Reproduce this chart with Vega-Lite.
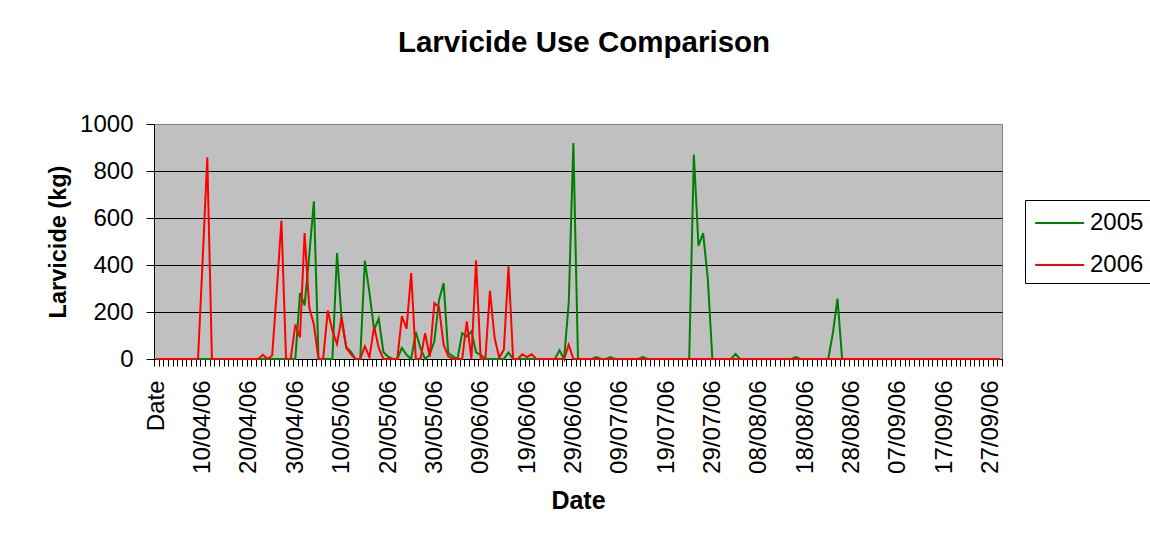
{
  "$schema": "https://vega.github.io/schema/vega-lite/v6.json",
  "width": 848,
  "height": 235,
  "autosize": {"type": "none"},
  "padding": {"left": 154, "top": 124, "right": 148, "bottom": 189},
  "background": "white",
  "title": {"text": "Larvicide Use Comparison", "fontSize": 29.5, "fontWeight": "bold", "font": "Liberation Sans", "color": "black", "anchor": "middle", "frame": "group", "offset": 54, "dx": 6},
  "data": {"values": [
    {"d":"Date","2005":0,"2006":0},
    {"d":"01/04/06","2005":0,"2006":0},{"d":"02/04/06","2005":0,"2006":0},{"d":"03/04/06","2005":0,"2006":0},{"d":"04/04/06","2005":0,"2006":0},{"d":"05/04/06","2005":0,"2006":0},
    {"d":"06/04/06","2005":0,"2006":0},{"d":"07/04/06","2005":0,"2006":0},{"d":"08/04/06","2005":0,"2006":0},{"d":"09/04/06","2005":0,"2006":0},{"d":"10/04/06","2005":0,"2006":420},
    {"d":"11/04/06","2005":0,"2006":858},{"d":"12/04/06","2005":0,"2006":0},{"d":"13/04/06","2005":0,"2006":0},{"d":"14/04/06","2005":0,"2006":0},{"d":"15/04/06","2005":0,"2006":0},
    {"d":"16/04/06","2005":0,"2006":0},{"d":"17/04/06","2005":0,"2006":0},{"d":"18/04/06","2005":0,"2006":0},{"d":"19/04/06","2005":0,"2006":0},{"d":"20/04/06","2005":0,"2006":0},
    {"d":"21/04/06","2005":0,"2006":0},{"d":"22/04/06","2005":0,"2006":0},{"d":"23/04/06","2005":0,"2006":18},{"d":"24/04/06","2005":0,"2006":0},{"d":"25/04/06","2005":0,"2006":15},
    {"d":"26/04/06","2005":0,"2006":290},{"d":"27/04/06","2005":0,"2006":589},{"d":"28/04/06","2005":0,"2006":0},{"d":"29/04/06","2005":0,"2006":0},{"d":"30/04/06","2005":0,"2006":146},
    {"d":"01/05/06","2005":281,"2006":92},{"d":"02/05/06","2005":228,"2006":536},{"d":"03/05/06","2005":441,"2006":220},{"d":"04/05/06","2005":671,"2006":146},{"d":"05/05/06","2005":0,"2006":0},
    {"d":"06/05/06","2005":0,"2006":0},{"d":"07/05/06","2005":0,"2006":206},{"d":"08/05/06","2005":0,"2006":120},{"d":"09/05/06","2005":451,"2006":64},{"d":"10/05/06","2005":160,"2006":179},
    {"d":"11/05/06","2005":50,"2006":47},{"d":"12/05/06","2005":30,"2006":21},{"d":"13/05/06","2005":0,"2006":0},{"d":"14/05/06","2005":0,"2006":0},{"d":"15/05/06","2005":418,"2006":54},
    {"d":"16/05/06","2005":281,"2006":7},{"d":"17/05/06","2005":125,"2006":138},{"d":"18/05/06","2005":172,"2006":47},{"d":"19/05/06","2005":30,"2006":0},{"d":"20/05/06","2005":10,"2006":0},
    {"d":"21/05/06","2005":0,"2006":0},{"d":"22/05/06","2005":0,"2006":0},{"d":"23/05/06","2005":47,"2006":182},{"d":"24/05/06","2005":18,"2006":129},{"d":"25/05/06","2005":0,"2006":366},
    {"d":"26/05/06","2005":115,"2006":0},{"d":"27/05/06","2005":47,"2006":0},{"d":"28/05/06","2005":0,"2006":110},{"d":"29/05/06","2005":18,"2006":10},{"d":"30/05/06","2005":75,"2006":238},
    {"d":"31/05/06","2005":250,"2006":220},
    {"d":"01/06/06","2005":323,"2006":61},{"d":"02/06/06","2005":25,"2006":11},{"d":"03/06/06","2005":11,"2006":0},{"d":"04/06/06","2005":0,"2006":0},{"d":"05/06/06","2005":110,"2006":0},
    {"d":"06/06/06","2005":96,"2006":160},{"d":"07/06/06","2005":118,"2006":0},{"d":"08/06/06","2005":28,"2006":420},{"d":"09/06/06","2005":18,"2006":0},{"d":"10/06/06","2005":0,"2006":0},
    {"d":"11/06/06","2005":0,"2006":290},{"d":"12/06/06","2005":0,"2006":90},{"d":"13/06/06","2005":0,"2006":5},{"d":"14/06/06","2005":0,"2006":40},{"d":"15/06/06","2005":28,"2006":394},
    {"d":"16/06/06","2005":0,"2006":0},{"d":"17/06/06","2005":0,"2006":0},{"d":"18/06/06","2005":0,"2006":20},{"d":"19/06/06","2005":0,"2006":8},{"d":"20/06/06","2005":0,"2006":20},
    {"d":"21/06/06","2005":0,"2006":0},{"d":"22/06/06","2005":0,"2006":0},{"d":"23/06/06","2005":0,"2006":0},{"d":"24/06/06","2005":0,"2006":0},{"d":"25/06/06","2005":0,"2006":0},
    {"d":"26/06/06","2005":37,"2006":0},{"d":"27/06/06","2005":0,"2006":0},{"d":"28/06/06","2005":240,"2006":61},{"d":"29/06/06","2005":919,"2006":0},{"d":"30/06/06","2005":0,"2006":0},
    {"d":"01/07/06","2005":0,"2006":0},{"d":"02/07/06","2005":0,"2006":0},{"d":"03/07/06","2005":0,"2006":0},{"d":"04/07/06","2005":8,"2006":0},{"d":"05/07/06","2005":0,"2006":0},
    {"d":"06/07/06","2005":0,"2006":0},{"d":"07/07/06","2005":8,"2006":0},{"d":"08/07/06","2005":0,"2006":0},{"d":"09/07/06","2005":0,"2006":0},{"d":"10/07/06","2005":0,"2006":0},
    {"d":"11/07/06","2005":0,"2006":0},{"d":"12/07/06","2005":0,"2006":0},{"d":"13/07/06","2005":0,"2006":0},{"d":"14/07/06","2005":8,"2006":0},{"d":"15/07/06","2005":0,"2006":0},
    {"d":"16/07/06","2005":0,"2006":0},{"d":"17/07/06","2005":0,"2006":0},{"d":"18/07/06","2005":0,"2006":0},{"d":"19/07/06","2005":0,"2006":0},{"d":"20/07/06","2005":0,"2006":0},
    {"d":"21/07/06","2005":0,"2006":0},{"d":"22/07/06","2005":0,"2006":0},{"d":"23/07/06","2005":0,"2006":0},{"d":"24/07/06","2005":0,"2006":0},{"d":"25/07/06","2005":870,"2006":0},
    {"d":"26/07/06","2005":482,"2006":0},{"d":"27/07/06","2005":536,"2006":0},{"d":"28/07/06","2005":345,"2006":0},{"d":"29/07/06","2005":0,"2006":0},{"d":"30/07/06","2005":0,"2006":0},
    {"d":"31/07/06","2005":0,"2006":0},
    {"d":"01/08/06","2005":0,"2006":0},{"d":"02/08/06","2005":0,"2006":0},{"d":"03/08/06","2005":21,"2006":0},{"d":"04/08/06","2005":0,"2006":0},{"d":"05/08/06","2005":0,"2006":0},
    {"d":"06/08/06","2005":0,"2006":0},{"d":"07/08/06","2005":0,"2006":0},{"d":"08/08/06","2005":0,"2006":0},{"d":"09/08/06","2005":0,"2006":0},{"d":"10/08/06","2005":0,"2006":0},
    {"d":"11/08/06","2005":0,"2006":0},{"d":"12/08/06","2005":0,"2006":0},{"d":"13/08/06","2005":0,"2006":0},{"d":"14/08/06","2005":0,"2006":0},{"d":"15/08/06","2005":0,"2006":0},
    {"d":"16/08/06","2005":8,"2006":0},{"d":"17/08/06","2005":0,"2006":0},{"d":"18/08/06","2005":0,"2006":0},{"d":"19/08/06","2005":0,"2006":0},{"d":"20/08/06","2005":0,"2006":0},
    {"d":"21/08/06","2005":0,"2006":0},{"d":"22/08/06","2005":0,"2006":0},{"d":"23/08/06","2005":0,"2006":0},{"d":"24/08/06","2005":110,"2006":0},{"d":"25/08/06","2005":257,"2006":0},
    {"d":"26/08/06","2005":0,"2006":0},{"d":"27/08/06","2005":0,"2006":0},{"d":"28/08/06","2005":0,"2006":0},{"d":"29/08/06","2005":0,"2006":0},{"d":"30/08/06","2005":0,"2006":0},
    {"d":"31/08/06","2005":0,"2006":0},
    {"d":"01/09/06","2005":0,"2006":0},{"d":"02/09/06","2005":0,"2006":0},{"d":"03/09/06","2005":0,"2006":0},{"d":"04/09/06","2005":0,"2006":0},{"d":"05/09/06","2005":0,"2006":0},
    {"d":"06/09/06","2005":0,"2006":0},{"d":"07/09/06","2005":0,"2006":0},{"d":"08/09/06","2005":0,"2006":0},{"d":"09/09/06","2005":0,"2006":0},{"d":"10/09/06","2005":0,"2006":0},
    {"d":"11/09/06","2005":0,"2006":0},{"d":"12/09/06","2005":0,"2006":0},{"d":"13/09/06","2005":0,"2006":0},{"d":"14/09/06","2005":0,"2006":0},{"d":"15/09/06","2005":0,"2006":0},
    {"d":"16/09/06","2005":0,"2006":0},{"d":"17/09/06","2005":0,"2006":0},{"d":"18/09/06","2005":0,"2006":0},{"d":"19/09/06","2005":0,"2006":0},{"d":"20/09/06","2005":0,"2006":0},
    {"d":"21/09/06","2005":0,"2006":0},{"d":"22/09/06","2005":0,"2006":0},{"d":"23/09/06","2005":0,"2006":0},{"d":"24/09/06","2005":0,"2006":0},{"d":"25/09/06","2005":0,"2006":0},
    {"d":"26/09/06","2005":0,"2006":0},{"d":"27/09/06","2005":0,"2006":0},{"d":"28/09/06","2005":0,"2006":0},{"d":"29/09/06","2005":0,"2006":0}
  ]},
  "transform": [{"fold": ["2005", "2006"], "as": ["series", "kg"]}],
  "mark": {"type": "line", "strokeWidth": 2, "interpolate": "linear"},
  "encoding": {
    "x": {
      "field": "d", "type": "ordinal", "sort": null, "bandPosition": 0.5,
      "scale": {"type": "band", "paddingInner": 0, "paddingOuter": 0},
      "axis": {
        "title": "Date",
        "labelAngle": 270,
        "labelOverlap": false,
        "labelExpr": "indexof(['Date','10/04/06','20/04/06','30/04/06','10/05/06','20/05/06','30/05/06','09/06/06','19/06/06','29/06/06','09/07/06','19/07/06','29/07/06','08/08/06','18/08/06','28/08/06','07/09/06','17/09/06','27/09/06'], datum.value) >= 0 ? datum.value : ''",
        "tickBand": "extent",
        "tickSize": 7,
        "tickColor": "black",
        "domainColor": "black",
        "grid": false,
        "labelFontSize": 24,
        "labelColor": "black",
        "labelFont": "Liberation Sans",
        "labelPadding": 14,
        "titleFontSize": 25,
        "titleFont": "Liberation Sans",
        "titleFontWeight": "bold",
        "titleColor": "black",
        "titlePadding": 15
      }
    },
    "y": {
      "field": "kg", "type": "quantitative",
      "scale": {"domain": [0, 1000], "nice": false},
      "axis": {
        "title": "Larvicide (kg)",
        "values": [0, 200, 400, 600, 800, 1000],
        "format": "d",
        "grid": true,
        "gridColor": {"condition": {"test": "datum.value == 1000 || datum.value == 0", "value": "#808080"}, "value": "black"},
        "gridWidth": 1,
        "tickSize": 8,
        "tickColor": "black",
        "domainColor": "black",
        "labelFontSize": 24,
        "labelColor": "black",
        "labelFont": "Liberation Sans",
        "labelPadding": 13,
        "titleFontSize": 23.5,
        "titleFont": "Liberation Sans",
        "titleFontWeight": "bold",
        "titleColor": "black",
        "titlePadding": 9
      }
    },
    "color": {
      "field": "series", "type": "nominal",
      "scale": {"domain": ["2005", "2006"], "range": ["#008000", "#FF0000"]},
      "legend": {
        "title": null,
        "orient": "none",
        "legendX": 871,
        "legendY": 76,
        "strokeColor": "black",
        "fillColor": "white",
        "padding": 6,
        "symbolType": "M-0.8,0H2.26",
        "symbolSize": 1024,
        "symbolStrokeWidth": 2,
        "labelFontSize": 24,
        "labelFont": "Liberation Sans",
        "labelColor": "black",
        "labelOffset": 25,
        "rowPadding": 13
      }
    }
  },
  "config": {
    "view": {"fill": "#C0C0C0", "stroke": "#808080", "strokeWidth": 1},
    "font": "Liberation Sans"
  }
}
